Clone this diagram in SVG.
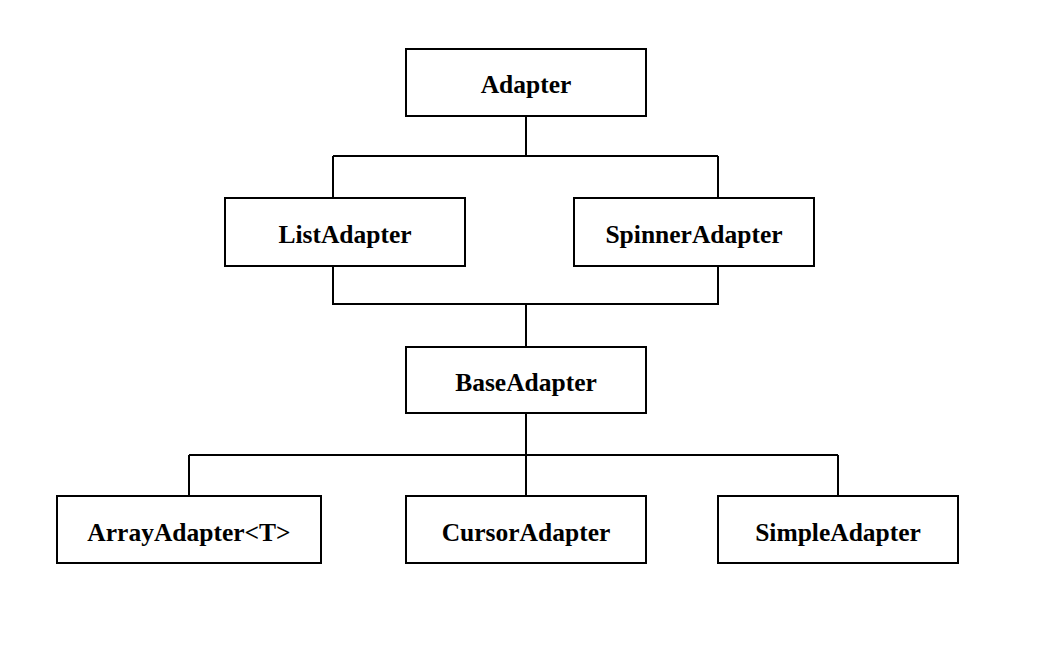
<svg xmlns="http://www.w3.org/2000/svg" width="1046" height="654" viewBox="0 0 1046 654">
<style>
.box{fill:#fff;stroke:#000;stroke-width:2}
.lbl{font-family:"Liberation Serif","Times New Roman",serif;font-weight:bold;font-size:25.5px;text-anchor:middle;fill:#000}
.conn{fill:none;stroke:#000;stroke-width:2}
</style>
<rect width="1046" height="654" fill="#fff"/>
<g id="connectors">
<path class="conn" d="M526,116V156M333,156H718M333,156V198M718,156V198"/>
<path class="conn" d="M333,266V304H718V266M526,304V347"/>
<path class="conn" d="M526,413V455M189,455H838M189,455V496M526,455V496M838,455V496"/>
</g>
<g id="adapter"><rect class="box" x="406" y="49" width="240" height="67"/><text class="lbl" x="526" y="93">Adapter</text></g>
<g id="listadapter"><rect class="box" x="225" y="198" width="240" height="68"/><text class="lbl" x="345" y="243">ListAdapter</text></g>
<g id="spinneradapter"><rect class="box" x="574" y="198" width="240" height="68"/><text class="lbl" x="694" y="243">SpinnerAdapter</text></g>
<g id="baseadapter"><rect class="box" x="406" y="347" width="240" height="66"/><text class="lbl" x="526" y="391">BaseAdapter</text></g>
<g id="arrayadapter"><rect class="box" x="57" y="496" width="264" height="67"/><text class="lbl" x="189" y="541">ArrayAdapter&lt;T&gt;</text></g>
<g id="cursoradapter"><rect class="box" x="406" y="496" width="240" height="67"/><text class="lbl" x="526" y="541">CursorAdapter</text></g>
<g id="simpleadapter"><rect class="box" x="718" y="496" width="240" height="67"/><text class="lbl" x="838" y="541">SimpleAdapter</text></g>
</svg>
